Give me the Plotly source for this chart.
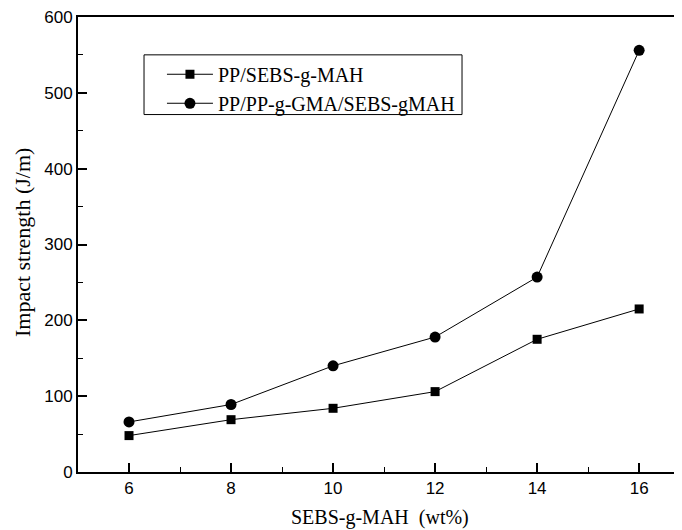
import plotly.graph_objects as go

x_vals = [6, 8, 10, 12, 14, 16]
pp_sebs = [48, 69, 84, 106, 175, 215]
pp_gma_sebs = [66, 89, 140, 178, 257, 556]
series_names = ["PP/SEBS-g-MAH", "PP/PP-g-GMA/SEBS-gMAH"]

fig = go.Figure()
fig.add_trace(go.Scatter(x=x_vals, y=pp_sebs, mode="lines+markers", name=series_names[0],
                         line=dict(color="black", width=1),
                         marker=dict(symbol="square", size=9, color="black")))
fig.add_trace(go.Scatter(x=x_vals, y=pp_gma_sebs, mode="lines+markers", name=series_names[1],
                         line=dict(color="black", width=1),
                         marker=dict(symbol="circle", size=11, color="black")))

serif = "Liberation Serif"
sans = "Liberation Sans"

fig.update_layout(
    width=674, height=522,
    margin=dict(l=70, r=0, t=7, b=58),
    paper_bgcolor="white", plot_bgcolor="white",
    showlegend=True,
    legend=dict(x=0.139, y=0.917, xanchor="left", yanchor="top",
                borderwidth=0, bgcolor="rgba(0,0,0,0)",
                font=dict(family=serif, size=20, color="black"),
                tracegroupgap=0, itemwidth=46),
    shapes=[dict(type="rect", xref="paper", yref="paper", x0=0.1093, x1=0.6358,
                 y0=0.7856, y1=0.9168, line=dict(color="black", width=1))],
    xaxis=dict(range=[5, 16.84], tick0=0, dtick=2, ticks="inside", ticklen=9, tickwidth=2,
               tickcolor="black", showline=True, linecolor="black", linewidth=2, mirror=True,
               showgrid=False, zeroline=False,
               tickfont=dict(family=sans, size=17, color="black"),
               minor=dict(dtick=1, tick0=0, ticks="inside", ticklen=5, tickwidth=1, tickcolor="black")),
    yaxis=dict(range=[0, 600], dtick=100, ticks="inside", ticklen=9, tickwidth=2,
               tickcolor="black", showline=True, linecolor="black", linewidth=2, mirror=False,
               showgrid=False, zeroline=False, ticklabeloverflow="allow",
               tickfont=dict(family=sans, size=17, color="black"),
               minor=dict(dtick=50, ticks="inside", ticklen=5, tickwidth=1, tickcolor="black")),
    annotations=[
        dict(text="SEBS-g-MAH\u00a0\u00a0(wt%)", xref="paper", yref="paper", x=0.5, y=-0.1007,
             xanchor="center", yanchor="middle", showarrow=False,
             font=dict(family=serif, size=20, color="black")),
        dict(text="Impact strength (J/m)", xref="paper", yref="paper", x=-0.093, y=0.505,
             xanchor="center", yanchor="middle", textangle=-90, showarrow=False,
             font=dict(family=serif, size=22, color="black")),
    ],
)

fig.write_html("out.html")
